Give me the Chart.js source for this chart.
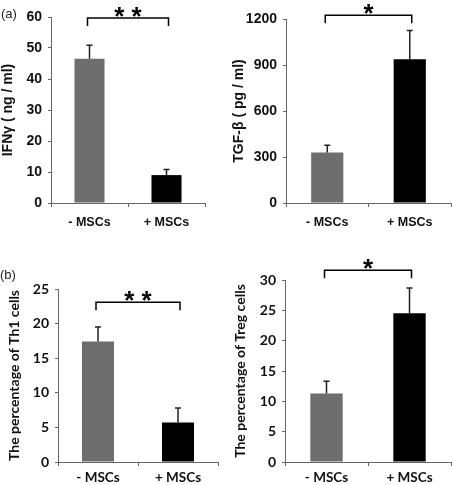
<!DOCTYPE html>
<html>
<head>
<meta charset="utf-8">
<script src="https://cdn.jsdelivr.net/npm/chart.js@4.4.1/dist/chart.umd.min.js"></script>
<style>
  html, body { margin: 0; padding: 0; background: #fff; }
  #wrap { position: relative; width: 452px; height: 485px; overflow: hidden; }
  .panel { position: absolute; }
  .tag { position: absolute; font: 13px "Liberation Sans", Arial, sans-serif; color: #222; }
</style>
</head>
<body>
<div id="wrap">
  <div class="panel" style="left:0;top:0"><canvas id="c1" width="226" height="240"></canvas></div>
  <div class="panel" style="left:226px;top:0"><canvas id="c2" width="226" height="240"></canvas></div>
  <div class="panel" style="left:0;top:240px"><canvas id="c3" width="226" height="245"></canvas></div>
  <div class="panel" style="left:226px;top:240px"><canvas id="c4" width="226" height="245"></canvas></div>
  <div class="tag" style="left:1px;top:6px">(a)</div>
  <div class="tag" style="left:0;top:267px">(b)</div>
</div>
<script>
// ---- data ----
const groups = ["- MSCs", "+ MSCs"];
const barColors = ["#6e6e6e", "#000000"];

const ifnMean = [46.5, 9.0];
const ifnErr = [4.4, 1.8];
const ifnTicks = [0, 10, 20, 30, 40, 50, 60];

const tgfMean = [330, 938];
const tgfErr = [47, 187];
const tgfTicks = [0, 300, 600, 900, 1200];

const th1Mean = [17.4, 5.7];
const th1Err = [2.1, 2.1];
const th1Ticks = [0, 5, 10, 15, 20, 25];

const tregMean = [11.3, 24.5];
const tregErr = [2.0, 4.2];
const tregTicks = [0, 5, 10, 15, 20, 25, 30];

// error bars (upper only) + significance bracket
const marks = {
    id: "marks",
    afterDatasetsDraw(chart, args, o) {
        const ctx = chart.ctx;
        const y = chart.scales.y;
        const bars = chart.getDatasetMeta(0).data;
        const vals = chart.data.datasets[0].data;
        ctx.save();
        ctx.strokeStyle = "#222";
        ctx.lineWidth = 1.5;
        o.err.forEach((e, i) => {
            const b = bars[i];
            const t = y.getPixelForValue(vals[i] + e);
            ctx.beginPath();
            ctx.moveTo(b.x, b.y);
            ctx.lineTo(b.x, t);
            ctx.moveTo(b.x - 3, t);
            ctx.lineTo(b.x + 3, t);
            ctx.stroke();
        });
        // bracket
        const by = y.getPixelForValue(o.level);
        const x0 = bars[0].x - 2, x1 = bars[1].x + 2;
        ctx.strokeStyle = "#000";
        ctx.beginPath();
        ctx.moveTo(x0, by + 8);
        ctx.lineTo(x0, by);
        ctx.lineTo(x1, by);
        ctx.lineTo(x1, by + 8);
        ctx.stroke();
        ctx.fillStyle = "#000";
        ctx.font = "bold 26px 'Liberation Sans', Arial";
        ctx.textAlign = "center";
        ctx.textBaseline = "middle";
        ctx.fillText(o.star, (x0 + x1) / 2, by);
        ctx.restore();
    }
};

function makeChart(id, means, errs, ticks, title, p) {
    const fam = p.font;
    return new Chart(document.getElementById(id), {
        type: "bar",
        data: {
            labels: groups,
            datasets: [{
                data: means,
                backgroundColor: barColors,
                barPercentage: p.bar,
                categoryPercentage: 1
            }]
        },
        options: {
            responsive: false,
            animation: false,
            layout: { padding: { top: p.top, right: p.right, left: 0, bottom: 0 } },
            plugins: {
                legend: { display: false },
                tooltip: { enabled: false },
                marks: { err: errs, level: p.level, star: p.star }
            },
            scales: {
                y: {
                    min: ticks[0],
                    max: ticks[ticks.length - 1],
                    afterBuildTicks: s => { s.ticks = ticks.map(v => ({ value: v })); },
                    afterFit: s => { s.width = p.left; },
                    border: { color: "#666", width: 1 },
                    grid: { drawOnChartArea: false, tickLength: 3, color: "#666" },
                    ticks: {
                        color: "#111", padding: 6,
                        callback: v => String(v),
                        font: { family: fam, size: p.tickSize, weight: "bold" }
                    },
                    title: {
                        display: true,
                        text: title,
                        color: "#111",
                        padding: { top: p.titlePad, bottom: 0 },
                        font: { family: fam, size: p.titleSize, weight: "bold" }
                    }
                },
                x: {
                    afterFit: s => { s.height = p.bottom; },
                    border: { color: "#666", width: 1 },
                    grid: { drawOnChartArea: false, tickLength: 4, color: "#666" },
                    ticks: { color: "#111", padding: p.xPad, font: { family: fam, size: p.catSize, weight: "bold" } }
                }
            }
        },
        plugins: [marks]
    });
}

const arial = "'Liberation Sans', Arial, sans-serif";
const calib = "Lato, 'Liberation Sans', sans-serif";

makeChart("c1", ifnMean, ifnErr, ifnTicks, "IFNγ ( ng / ml)",
    { font: arial, top: 17, right: 21, left: 51, bottom: 37, bar: 0.39, level: 59.7, star: "* *",
      tickSize: 14, titleSize: 14, catSize: 12.5, titlePad: 0, xPad: 8 });

makeChart("c2", tgfMean, tgfErr, tgfTicks, "TGF-β ( pg / ml)",
    { font: arial, top: 19, right: 1, left: 60, bottom: 37, bar: 0.39, level: 1224, star: "*",
      tickSize: 14, titleSize: 14, catSize: 12.5, titlePad: 5, xPad: 8 });

makeChart("c3", th1Mean, th1Err, th1Ticks, "The percentage of Th1 cells",
    { font: calib, top: 49, right: 8, left: 58, bottom: 23, bar: 0.40, level: 23.1, star: "* *",
      tickSize: 14, titleSize: 14, catSize: 13.5, titlePad: 6, xPad: 4 });

makeChart("c4", tregMean, tregErr, tregTicks, "The percentage of Treg cells",
    { font: calib, top: 40, right: 1, left: 59, bottom: 23, bar: 0.39, level: 31.6, star: "*",
      tickSize: 14, titleSize: 14, catSize: 13.5, titlePad: 6, xPad: 4 });
</script>
</body>
</html>
